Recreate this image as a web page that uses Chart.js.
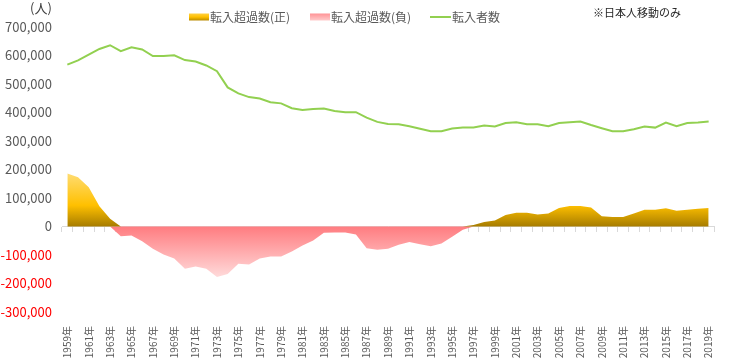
<!DOCTYPE html>
<html>
<head>
<meta charset="utf-8">
<script src="https://cdn.jsdelivr.net/npm/chart.js@4.4.1/dist/chart.umd.min.js"></script>
<style>
  body { margin: 0; background: #fff; }
  #wrap { width: 730px; height: 362px; position: relative; }
</style>
</head>
<body>
<div id="wrap"><canvas id="chart"></canvas></div>
<script>
// データ
const years = [1959, 1960, 1961, 1962, 1963, 1964, 1965, 1966, 1967, 1968,
  1969, 1970, 1971, 1972, 1973, 1974, 1975, 1976, 1977, 1978,
  1979, 1980, 1981, 1982, 1983, 1984, 1985, 1986, 1987, 1988,
  1989, 1990, 1991, 1992, 1993, 1994, 1995, 1996, 1997, 1998,
  1999, 2000, 2001, 2002, 2003, 2004, 2005, 2006, 2007, 2008,
  2009, 2010, 2011, 2012, 2013, 2014, 2015, 2016, 2017, 2018, 2019];

// 転入超過数
const netMigration = [186000, 173000, 138000, 71000, 27000, -34000, -32000, -52000, -78000, -98000,
  -112000, -148000, -140000, -148000, -177000, -167000, -131000, -133000, -112000, -105000,
  -105000, -88000, -67000, -49000, -22000, -21000, -21000, -28000, -76000, -82000,
  -78000, -64000, -54000, -62000, -69000, -60000, -36000, -11000, 5000, 16000,
  21000, 40000, 48000, 48000, 42000, 46000, 65000, 72000, 72000, 67000,
  36000, 33000, 33000, 46000, 59000, 59000, 64000, 55000, 59000, 62000, 65000];

// 転入者数
const inMigrants = [568000, 583000, 603000, 623000, 636000, 615000, 629000, 621000, 598000, 598000,
  601000, 584000, 579000, 565000, 545000, 488000, 467000, 454000, 449000, 436000,
  432000, 415000, 409000, 412000, 414000, 405000, 401000, 401000, 382000, 367000,
  360000, 359000, 352000, 343000, 334000, 334000, 344000, 347000, 347000, 354000,
  351000, 363000, 366000, 359000, 359000, 352000, 363000, 366000, 368000, 356000,
  345000, 334000, 334000, 341000, 351000, 347000, 365000, 352000, 363000, 365000, 368000];

const seriesNames = ['転入超過数(正)', '転入超過数(負)', '転入者数'];
const yTicks = { min: -300000, max: 700000, step: 100000 };

const labels = years.map(y => y + '年');
const positive = netMigration.map(v => Math.max(v, 0));
const negative = netMigration.map(v => Math.min(v, 0));

const FONT = '"Noto Sans CJK JP", "Noto Sans", sans-serif';

// グラデーション
function goldGradient(context) {
    const chart = context.chart;
    if (!chart.chartArea) return '#FFC000';
    const y = chart.scales.y;
    const g = chart.ctx.createLinearGradient(0, y.getPixelForValue(Math.max(...positive)), 0, y.getPixelForValue(0));
    g.addColorStop(0, '#FFDC72');
    g.addColorStop(0.6, '#FFC000');
    g.addColorStop(1, '#A67C00');
    return g;
}

function pinkGradient(context) {
    const chart = context.chart;
    if (!chart.chartArea) return '#FF9999';
    const y = chart.scales.y;
    const g = chart.ctx.createLinearGradient(0, y.getPixelForValue(0), 0, y.getPixelForValue(Math.min(...negative)));
    g.addColorStop(0, '#FF7C80');
    g.addColorStop(1, '#FFDADA');
    return g;
}

// 凡例と注記
const legendPlugin = {
    id: 'customLegend',
    afterDraw(chart) {
        const ctx = chart.ctx;
        ctx.save();
        ctx.textBaseline = 'middle';

        // 単位
        ctx.font = '13px ' + FONT;
        ctx.fillStyle = '#404040';
        ctx.textAlign = 'left';
        ctx.fillText('(人)', 30, 8);

        // 凡例
        ctx.font = '12px ' + FONT;
        ctx.fillStyle = '#595959';
        const ly = 17;

        let g = ctx.createLinearGradient(0, ly - 4, 0, ly + 4);
        g.addColorStop(0, '#FFD34D');
        g.addColorStop(0.5, '#FFC000');
        g.addColorStop(1, '#B08300');
        ctx.fillStyle = g;
        ctx.fillRect(189, ly - 3.5, 20, 7);
        ctx.fillStyle = '#595959';
        ctx.fillText(seriesNames[0], 210, ly);

        g = ctx.createLinearGradient(0, ly - 4, 0, ly + 4);
        g.addColorStop(0, '#FF8F92');
        g.addColorStop(1, '#FFCFCF');
        ctx.fillStyle = g;
        ctx.fillRect(310, ly - 3.5, 20, 7);
        ctx.fillStyle = '#595959';
        ctx.fillText(seriesNames[1], 331, ly);

        ctx.strokeStyle = '#92D050';
        ctx.lineWidth = 2;
        ctx.beginPath();
        ctx.moveTo(430, ly);
        ctx.lineTo(451, ly);
        ctx.stroke();
        ctx.fillText(seriesNames[2], 452, ly);

        // 注記
        ctx.font = '11px ' + FONT;
        ctx.fillStyle = '#262626';
        ctx.fillText('※日本人移動のみ', 593, 13);
        ctx.restore();
    }
};

new Chart(document.getElementById('chart'), {
    type: 'line',
    data: {
        labels: labels,
        datasets: [
            {
                label: seriesNames[2],
                data: inMigrants,
                borderColor: '#92D050',
                borderWidth: 2,
                pointRadius: 0,
                tension: 0,
                fill: false,
                order: 0
            },
            {
                label: seriesNames[0],
                data: positive,
                backgroundColor: goldGradient,
                borderWidth: 0,
                pointRadius: 0,
                tension: 0,
                fill: 'origin',
                order: 1
            },
            {
                label: seriesNames[1],
                data: negative,
                backgroundColor: pinkGradient,
                borderWidth: 0,
                pointRadius: 0,
                tension: 0,
                fill: 'origin',
                order: 2
            }
        ]
    },
    options: {
        responsive: true,
        maintainAspectRatio: false,
        animation: false,
        layout: { padding: { top: 27, right: 16, bottom: 0, left: 0 } },
        plugins: {
            legend: { display: false },
            tooltip: { enabled: false }
        },
        scales: {
            x: {
                type: 'category',
                offset: true,
                grid: { display: false },
                border: { display: false },
                afterFit: (scale) => { scale.height = 50; },
                ticks: {
                    autoSkip: false,
                    maxRotation: 90,
                    minRotation: 90,
                    padding: 6,
                    color: '#595959',
                    font: { family: FONT, size: 10 },
                    callback: function (value, index) {
                        return index % 2 === 0 ? this.getLabelForValue(value) : '';
                    }
                }
            },
            x2: {
                type: 'category',
                labels: labels,
                offset: true,
                position: { y: 0 },
                grid: {
                    offset: true,
                    drawOnChartArea: false,
                    drawTicks: true,
                    tickLength: 5,
                    color: '#D9D9D9'
                },
                border: { display: true, color: '#D9D9D9', width: 1 },
                ticks: { display: false }
            },
            y: {
                min: yTicks.min,
                max: yTicks.max,
                afterFit: (scale) => { scale.width = 62; },
                grid: { display: false, drawTicks: false },
                border: { display: false },
                ticks: {
                    stepSize: yTicks.step,
                    padding: 10,
                    font: { family: FONT, size: 13 },
                    color: (c) => c.tick.value < 0 ? '#FF0000' : '#595959',
                    callback: (v) => v.toLocaleString('en-US')
                }
            }
        }
    },
    plugins: [legendPlugin]
});
</script>
</body>
</html>
